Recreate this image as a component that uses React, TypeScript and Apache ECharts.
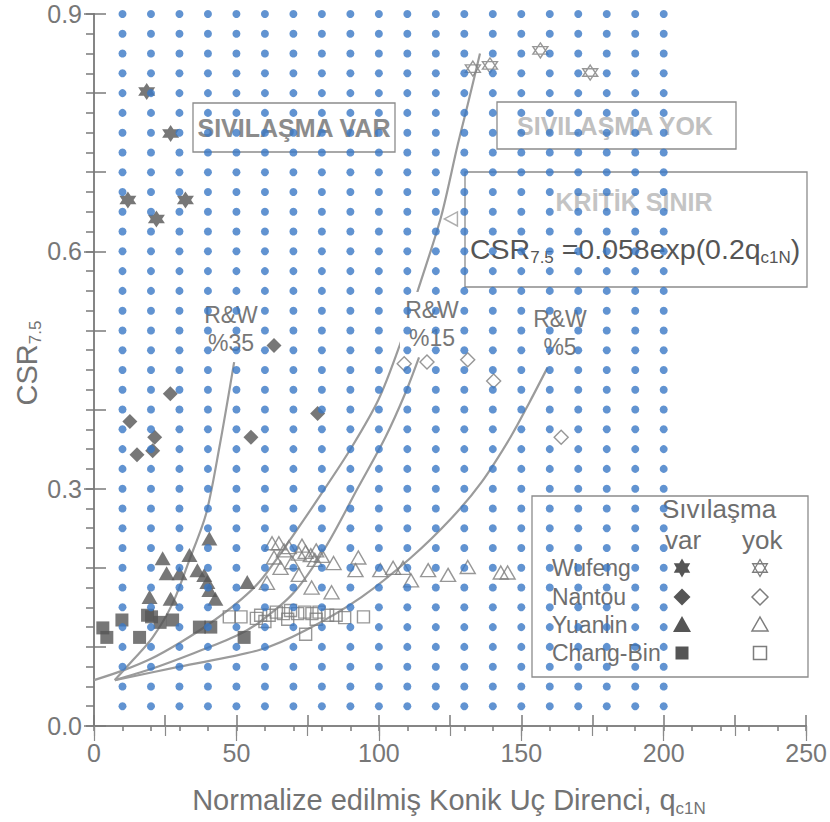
import React, { useEffect, useRef } from 'react';
import * as echarts from 'echarts';

const FONT = '"Liberation Sans", Arial, Helvetica, sans-serif';

// ---- data ----
const wufengVar = [[18.5, 0.802], [26.9, 0.749], [11.9, 0.665], [21.9, 0.641], [32.1, 0.665]];
const wufengYok = [[133, 0.831], [139, 0.835], [156.7, 0.854], [174.2, 0.826]];
const nantouVar = [[12.6, 0.385], [26.8, 0.42], [21.3, 0.365], [15.1, 0.343], [20.6, 0.348], [55.1, 0.365], [63.2, 0.481], [78.5, 0.395]];
const nantouYok = [[108.9, 0.458], [116.9, 0.46], [131.2, 0.463], [140.3, 0.436], [164, 0.365]];
const yuanlinVar = [[40.5, 0.237], [24.1, 0.212], [33.5, 0.216], [25.5, 0.193], [30, 0.193], [36.3, 0.197], [38.7, 0.191], [39.8, 0.182], [40.5, 0.172], [42.6, 0.161], [19.5, 0.163], [26.9, 0.161], [53.8, 0.182]];
const yuanlinYok = [[60.7, 0.181], [62.5, 0.231], [64.9, 0.231], [63.2, 0.213], [65.5, 0.2], [66.7, 0.222], [68.4, 0.226], [69.5, 0.207], [71.9, 0.218], [71.9, 0.191], [73, 0.228], [74.3, 0.22], [76.1, 0.216], [77.5, 0.21], [78, 0.222], [76.4, 0.175], [80, 0.215], [83.4, 0.169], [84.1, 0.206], [91.8, 0.197], [92.8, 0.213], [100.5, 0.197], [105, 0.2], [108.5, 0.2], [111.3, 0.184], [117.3, 0.197], [124.3, 0.191], [131.2, 0.201], [142.8, 0.194], [145.2, 0.194]];
const changBinVar = [[3.1, 0.124], [4.5, 0.112], [9.8, 0.134], [16, 0.112], [18.8, 0.14], [20.2, 0.138], [23.2, 0.131], [27.6, 0.134], [37, 0.125], [41, 0.125], [52.7, 0.112]];
const changBinYok = [[47.5, 0.138], [51.6, 0.138], [57, 0.136], [58.5, 0.14], [61.5, 0.14], [64, 0.144], [66.5, 0.142], [69, 0.146], [71.5, 0.142], [74, 0.144], [76.5, 0.142], [79, 0.144], [82, 0.14], [85, 0.14], [88, 0.137], [94.6, 0.138], [74.3, 0.116], [60, 0.132], [68, 0.135], [78, 0.135]];

const kritikCurve = [[0, 0.058], [10, 0.07], [20, 0.085], [30, 0.105], [40, 0.128], [50, 0.155], [58, 0.182], [67.4, 0.228], [79.9, 0.294], [90.4, 0.352], [99.8, 0.412], [106.8, 0.476], [114.8, 0.563], [121.8, 0.643], [127.7, 0.735], [131.5, 0.79], [135.5, 0.85]];
const rw35Curve = [[7.3, 0.058], [13.6, 0.083], [20.6, 0.112], [27.6, 0.155], [33.5, 0.21], [39.4, 0.269], [44, 0.352], [49.2, 0.46]];
const rw15Curve = [[7.3, 0.058], [20, 0.072], [35, 0.092], [50, 0.114], [58, 0.131], [70, 0.168], [81.3, 0.226], [92.8, 0.302], [102.3, 0.365], [109.2, 0.42], [114.1, 0.466]];
const rw5Curve = [[7.3, 0.058], [30, 0.075], [58, 0.096], [74.3, 0.121], [93.9, 0.163], [111.3, 0.213], [125.3, 0.262], [136, 0.308], [146.2, 0.365], [153, 0.41], [159.2, 0.453]];
const arrowPoint = [[125.3, 0.641]];

const dotColumns = [10, 20, 30, 40, 50, 60, 70, 80, 90, 100, 110, 120, 130, 140, 150, 160, 170, 180, 190, 200];
const dotRows = [0.025, 0.05, 0.075, 0.1, 0.125, 0.15, 0.175, 0.2, 0.225, 0.25, 0.275, 0.3, 0.325, 0.35, 0.375, 0.4, 0.425, 0.45, 0.475, 0.5, 0.525, 0.55, 0.575, 0.6, 0.625, 0.65, 0.675, 0.7, 0.725, 0.75, 0.775, 0.8, 0.825, 0.85, 0.875, 0.9];

const legendRows = ['Wufeng', 'Nantou', 'Yuanlin', 'Chang-Bin'];

// ---- styling helpers ----
const DARK = '#555555';
const OUTLINE = '#7d7d7d';
const LINE = '#9b9b9b';
const TEXT = '#737373';
const STAR_FILLED = 'path://M0,-10L2.887,-5L8.66,-5L5.774,0L8.66,5L2.887,5L0,10L-2.887,5L-8.66,5L-5.774,0L-8.66,-5L-2.887,-5Z';
const STAR_OUTLINE = 'path://M0,-10L8.66,5L-8.66,5Z M0,10L-8.66,-5L8.66,-5Z';

function filled(name: string, data: number[][], symbol: string, size: any) {
  return {
    name, type: 'scatter', data, symbol, symbolSize: size, z: 3,
    itemStyle: { color: DARK, borderWidth: 0 },
  };
}
function hollow(name: string, data: number[][], symbol: string, size: any) {
  return {
    name, type: 'scatter', data, symbol, symbolSize: size, z: 3,
    itemStyle: { color: 'rgba(0,0,0,0)', borderColor: OUTLINE, borderWidth: 1.4 },
  };
}
function curve(name: string, data: number[][]) {
  return {
    name, type: 'line', data, showSymbol: false, smooth: 0.3, z: 2,
    lineStyle: { color: LINE, width: 2.2 }, silent: true,
  };
}

function polyPts(cx: number, cy: number, r: number, angles: number[], radii?: number[]) {
  return angles.map((a, i) => {
    const rad = (a * Math.PI) / 180;
    const rr = radii ? radii[i] : r;
    return [cx + rr * Math.cos(rad), cy + rr * Math.sin(rad)];
  });
}

function legendGraphics() {
  const els: any[] = [];
  const xVar = 682, xYok = 760;
  const ys = [568, 597, 625, 653];
  legendRows.forEach((name, i) => {
    els.push({ type: 'text', x: 552, y: ys[i], z: 5, style: { text: name, font: `23px ${FONT}`, fill: '#6e6e6e', align: 'left', verticalAlign: 'middle' } });
  });
  const hexAngles = Array.from({ length: 12 }, (_, k) => -90 + 30 * k);
  const hexRadii = hexAngles.map((_, k) => (k % 2 === 0 ? 9.5 : 9.5 / Math.sqrt(3)));
  els.push({ type: 'polygon', z: 5, shape: { points: polyPts(xVar, ys[0], 9.5, hexAngles, hexRadii) }, style: { fill: DARK } });
  els.push({ type: 'polygon', z: 5, shape: { points: polyPts(xYok, ys[0], 8.5, [-90, 30, 150]) }, style: { fill: 'none', stroke: OUTLINE, lineWidth: 1.3 } });
  els.push({ type: 'polygon', z: 5, shape: { points: polyPts(xYok, ys[0], 8.5, [90, 210, 330]) }, style: { fill: 'none', stroke: OUTLINE, lineWidth: 1.3 } });
  els.push({ type: 'polygon', z: 5, shape: { points: polyPts(xVar, ys[1], 8.5, [-90, 0, 90, 180]) }, style: { fill: DARK } });
  els.push({ type: 'polygon', z: 5, shape: { points: polyPts(xYok, ys[1], 8, [-90, 0, 90, 180]) }, style: { fill: 'none', stroke: OUTLINE, lineWidth: 1.5 } });
  els.push({ type: 'polygon', z: 5, shape: { points: [[xVar, ys[2] - 9], [xVar + 9, ys[2] + 7], [xVar - 9, ys[2] + 7]] }, style: { fill: DARK } });
  els.push({ type: 'polygon', z: 5, shape: { points: [[xYok, ys[2] - 8], [xYok + 8, ys[2] + 6], [xYok - 8, ys[2] + 6]] }, style: { fill: 'none', stroke: OUTLINE, lineWidth: 1.5 } });
  els.push({ type: 'rect', z: 5, shape: { x: xVar - 6.5, y: ys[3] - 6.5, width: 13, height: 13 }, style: { fill: DARK } });
  els.push({ type: 'rect', z: 5, shape: { x: xYok - 6.5, y: ys[3] - 6.5, width: 13, height: 13 }, style: { fill: 'none', stroke: OUTLINE, lineWidth: 1.5 } });
  return els;
}

export default function App() {
  const ref = useRef<HTMLDivElement>(null);

  useEffect(() => {
    if (!ref.current) return;
    const chart = echarts.init(ref.current, null, { renderer: 'svg' });

    const dots: number[][] = [];
    dotColumns.forEach((x) => dotRows.forEach((y) => dots.push([x, y])));

    const axisCol = '#7a7a7a';
    const labelStyle = { fontSize: 25, color: '#777', fontFamily: FONT };
    const subRich = {
      a: { fontSize: 29, fontFamily: FONT, fill: TEXT, lineHeight: 34 },
      s: { fontSize: 17, fontFamily: FONT, fill: TEXT, lineHeight: 12, verticalAlign: 'bottom' },
    };
    const eqRich = {
      a: { fontSize: 28.5, fontFamily: FONT, fill: '#555', lineHeight: 34 },
      s: { fontSize: 17, fontFamily: FONT, fill: '#555', lineHeight: 12, verticalAlign: 'bottom' },
    };

    const option: any = {
      animation: false,
      backgroundColor: '#ffffff',
      grid: { left: 94, right: 22, top: 14, bottom: 96, containLabel: false },
      xAxis: [
        {
          type: 'value', position: 'bottom', min: 0, max: 250, interval: 25,
          axisLine: { show: true, lineStyle: { color: axisCol, width: 2 } },
          axisTick: { show: true, inside: true, length: 11, lineStyle: { color: axisCol, width: 1.5 } },
          axisLabel: { ...labelStyle, margin: 14, formatter: (v: number) => (v % 50 === 0 ? String(v) : '') },
          splitLine: { show: false },
        },
        {
          type: 'value', position: 'bottom', offset: 0, min: 0, max: 250, interval: 10,
          axisLine: { show: false }, axisLabel: { show: false }, splitLine: { show: false },
          axisTick: { show: true, inside: false, length: 5, lineStyle: { color: axisCol, width: 1.5 } },
        },
        {
          type: 'value', position: 'top', min: 0, max: 250, interval: 25,
          axisLine: { show: true, lineStyle: { color: '#8a8a8a', width: 1.5 } },
          axisTick: { show: true, inside: true, length: 10, lineStyle: { color: '#8a8a8a', width: 1.2 } },
          axisLabel: { show: false }, splitLine: { show: false },
        },
        {
          type: 'value', position: 'top', offset: 0, min: 0, max: 250, interval: 50,
          axisLine: { show: false },
          axisTick: { show: true, inside: true, length: 15, lineStyle: { color: '#8a8a8a', width: 1.2 } },
          axisLabel: { show: false }, splitLine: { show: false },
        },
      ],
      yAxis: [
        {
          type: 'value', position: 'left', min: 0, max: 0.9, interval: 0.3,
          axisLine: { show: true, lineStyle: { color: axisCol, width: 2 } },
          axisTick: { show: true, inside: false, length: 10, lineStyle: { color: axisCol, width: 1.5 } },
          axisLabel: { ...labelStyle, margin: 12, formatter: (v: number) => v.toFixed(1) },
          splitLine: { show: false },
        },
        {
          type: 'value', position: 'left', offset: 0, min: 0, max: 0.9, interval: 0.025,
          axisLine: { show: false }, axisLabel: { show: false }, splitLine: { show: false },
          axisTick: { show: true, inside: false, length: 8, lineStyle: { color: axisCol, width: 1.5 } },
        },
        {
          type: 'value', position: 'left', offset: 0, min: 0, max: 0.9, interval: 0.1,
          axisLine: { show: false }, axisLabel: { show: false }, splitLine: { show: false },
          axisTick: { show: true, inside: true, length: 12, lineStyle: { color: axisCol, width: 1.5 } },
        },
        {
          type: 'value', position: 'right', min: 0, max: 0.9, interval: 0.3,
          axisLine: { show: true, lineStyle: { color: '#8a8a8a', width: 1.5 } },
          axisTick: { show: false }, axisLabel: { show: false }, splitLine: { show: false },
        },
      ],
      series: [
        curve('Kritik sınır', kritikCurve),
        curve('R&W %35', rw35Curve),
        curve('R&W %15', rw15Curve),
        curve('R&W %5', rw5Curve),
        filled('Wufeng var', wufengVar, STAR_FILLED, 17),
        hollow('Wufeng yok', wufengYok, STAR_OUTLINE, 15),
        filled('Nantou var', nantouVar, 'diamond', 15),
        hollow('Nantou yok', nantouYok, 'diamond', 14),
        filled('Yuanlin var', yuanlinVar, 'triangle', [16, 14]),
        hollow('Yuanlin yok', yuanlinYok, 'triangle', [15, 13]),
        filled('Chang-Bin var', changBinVar, 'rect', 13),
        hollow('Chang-Bin yok', changBinYok, 'rect', 12),
        {
          name: 'arrow', type: 'scatter', data: arrowPoint, symbol: 'triangle', symbolSize: [14, 13], symbolRotate: 90, z: 3,
          itemStyle: { color: '#ffffff', borderColor: '#9a9a9a', borderWidth: 1.5 },
        },
        {
          name: 'dots', type: 'scatter', data: dots, symbol: 'circle', symbolSize: 8, z: 10, silent: true,
          itemStyle: { color: '#3a78c5' },
        },
      ],
      graphic: [
        // annotation boxes
        { type: 'rect', z: 5, shape: { x: 193, y: 103, width: 202, height: 49 }, style: { fill: 'none', stroke: '#8c8c8c', lineWidth: 1.3 } },
        { type: 'text', z: 5, x: 294, y: 128, style: { text: 'SIVILAŞMA VAR', font: `bold 25px ${FONT}`, fill: '#8c8c8c', align: 'center', verticalAlign: 'middle' } },
        { type: 'rect', z: 5, shape: { x: 497, y: 102, width: 239, height: 47 }, style: { fill: 'none', stroke: '#8c8c8c', lineWidth: 1.3 } },
        { type: 'text', z: 5, x: 615, y: 126, style: { text: 'SIVILAŞMA YOK', font: `bold 25px ${FONT}`, fill: '#c0c0c0', align: 'center', verticalAlign: 'middle' } },
        { type: 'rect', z: 5, shape: { x: 465, y: 172, width: 342, height: 115 }, style: { fill: 'none', stroke: '#8c8c8c', lineWidth: 1.3 } },
        { type: 'text', z: 5, x: 634, y: 202, style: { text: 'KRİTİK SINIR', font: `bold 25px ${FONT}`, fill: '#c4c4c4', align: 'center', verticalAlign: 'middle' } },
        {
          type: 'text', z: 5, x: 470, y: 249,
          style: { text: '{a|CSR}{s|7.5}{a| =0.058exp(0.2q}{s|c1N}{a|)}', align: 'left', verticalAlign: 'middle', rich: eqRich },
        },
        // R&W labels
        { type: 'text', z: 5, x: 231, y: 329, style: { text: 'R&W\n%35', font: `23px ${FONT}`, fill: '#777', align: 'center', verticalAlign: 'middle', lineHeight: 28 } },
        { type: 'rect', z: 4, shape: { x: 400, y: 292, width: 62, height: 55 }, style: { fill: '#ffffff' } },
        { type: 'text', z: 5, x: 432, y: 324, style: { text: 'R&W\n%15', font: `23px ${FONT}`, fill: '#777', align: 'center', verticalAlign: 'middle', lineHeight: 28 } },
        { type: 'text', z: 5, x: 560, y: 333, style: { text: 'R&W\n%5', font: `23px ${FONT}`, fill: '#777', align: 'center', verticalAlign: 'middle', lineHeight: 28 } },
        // legend box
        { type: 'rect', z: 5, shape: { x: 532, y: 496, width: 276, height: 181 }, style: { fill: 'none', stroke: '#8c8c8c', lineWidth: 1.3 } },
        { type: 'text', z: 5, x: 662, y: 509, style: { text: 'Sıvılaşma', font: `26px ${FONT}`, fill: '#6e6e6e', align: 'left', verticalAlign: 'middle' } },
        { type: 'text', z: 5, x: 665, y: 540, style: { text: 'var', font: `26px ${FONT}`, fill: '#6e6e6e', align: 'left', verticalAlign: 'middle' } },
        { type: 'text', z: 5, x: 742, y: 540, style: { text: 'yok', font: `26px ${FONT}`, fill: '#6e6e6e', align: 'left', verticalAlign: 'middle' } },
        ...legendGraphics(),
        // axis titles
        {
          type: 'text', z: 5, x: 27, y: 363, rotation: Math.PI / 2,
          style: { text: '{a|CSR}{s|7.5}', align: 'center', verticalAlign: 'middle', rich: subRich },
        },
        {
          type: 'text', z: 5, x: 449, y: 800,
          style: { text: '{a|Normalize edilmiş Konik Uç Direnci, q}{s|c1N}', align: 'center', verticalAlign: 'middle', rich: subRich },
        },
      ],
    };

    chart.setOption(option);
    return () => chart.dispose();
  }, []);

  return (
    <div
      ref={ref}
      style={{ position: 'fixed', left: 0, top: 0, width: 830, height: 822, background: '#ffffff' }}
    />
  );
}
